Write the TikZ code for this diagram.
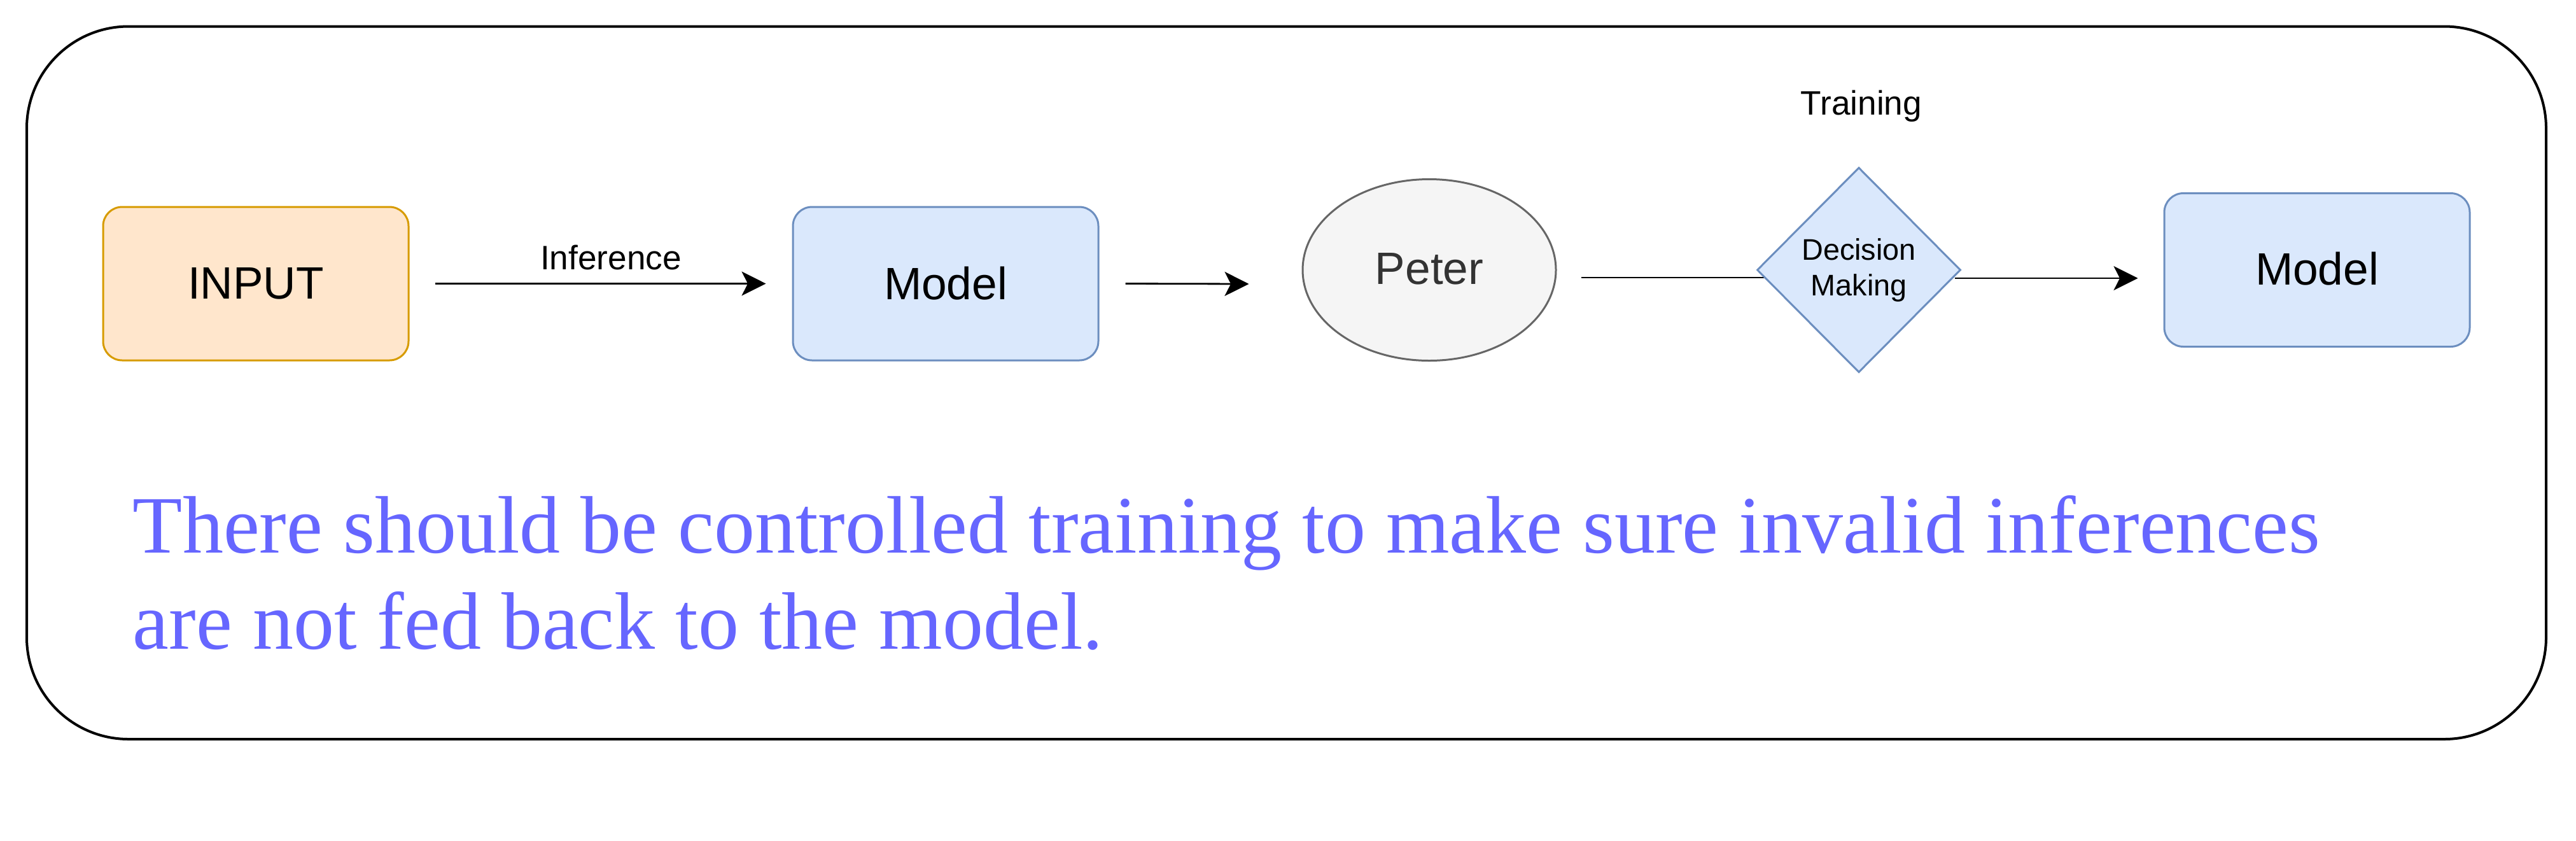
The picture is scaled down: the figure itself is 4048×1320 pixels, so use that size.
\documentclass[tikz,border=0pt]{standalone}
\usepackage{fontspec}
\setmainfont{Liberation Serif}
\newfontfamily\arialf{Liberation Sans}
\usetikzlibrary{shapes.geometric,arrows.meta}
\definecolor{orfill}{HTML}{FFE6CC}
\definecolor{ordraw}{HTML}{D79B00}
\definecolor{blfill}{HTML}{DAE8FC}
\definecolor{bldraw}{HTML}{6C8EBF}
\definecolor{grfill}{HTML}{F5F5F5}
\definecolor{grdraw}{HTML}{666666}
\definecolor{notecol}{HTML}{6666FF}
\begin{document}
\begin{tikzpicture}[x=0.25pt,y=-0.25pt,
  boxst/.style={rectangle,rounded corners=7.5pt,minimum width=120pt,minimum height=60.25pt,inner sep=0pt,line width=0.75pt,font=\arialf\fontsize{17.8pt}{21pt}\selectfont},
  orbox/.style={boxst,fill=orfill,draw=ordraw},
  blbox/.style={boxst,fill=blfill,draw=bldraw},
  lbl/.style={inner sep=0pt,font=\arialf\fontsize{13.3pt}{16pt}\selectfont},
  conn/.style={line width=0.7pt,draw=black},
  arrowc/.style={conn,-{Stealth[length=9.5pt,width=9.5pt,inset=2.4pt]}},
  notest/.style={inner sep=0pt,anchor=base west,text=notecol,font=\fontsize{32pt}{37.75pt}\selectfont}
]
\useasboundingbox (0,0) rectangle (4048,1320);
\draw[line width=1pt,rounded corners=40pt] (42,41.5) rectangle (4001,1161);

\node[orbox] (input) at (402,445.5) {INPUT};
\node[blbox] (model1) at (1486,445.5) {Model};
\node[ellipse,minimum width=99.5pt,minimum height=71.25pt,inner sep=0pt,fill=grfill,draw=grdraw,line width=0.75pt,text=black!80,font=\arialf\fontsize{17.8pt}{21pt}\selectfont] (peter) at (2246,424) {\raisebox{1pt}{Peter}};
\node[blbox] (model2) at (3641,424) {\raisebox{1pt}{Model}};

\draw[arrowc] ([xshift=10pt]input.east) -- ([xshift=-10.25pt]model1.west);
\node[lbl] (inflbl) at (960,404) {Inference};
\draw[arrowc] ([xshift=10.25pt]model1.east) -- ([xshift=-20.75pt,yshift=-5.5pt]peter.west);

\draw[conn] ([xshift=9.5pt,yshift=-3pt]peter.east) -- ([xshift=3pt,yshift=-3pt]2761,424) coordinate (dmin);

\node[diamond,minimum width=80pt,minimum height=80.5pt,inner sep=0pt,fill=blfill,draw=bldraw,line width=0.75pt,align=center,font=\arialf\fontsize{11.7pt}{14pt}\selectfont] (dm) at (2921,424) {Decision\\Making};
\draw[arrowc] ([xshift=-2.75pt,yshift=-3.25pt]dm.east) -- ([xshift=-10pt,yshift=-3.25pt]model2.west);
\node[lbl] (trlbl) at (2925,167) {Training};

\node[notest] (note1) at (208,868) {There should be controlled training to make sure invalid inferences};
\node[notest] (note2) at (208,1019) {are not fed back to the model.};
\end{tikzpicture}
\end{document}
